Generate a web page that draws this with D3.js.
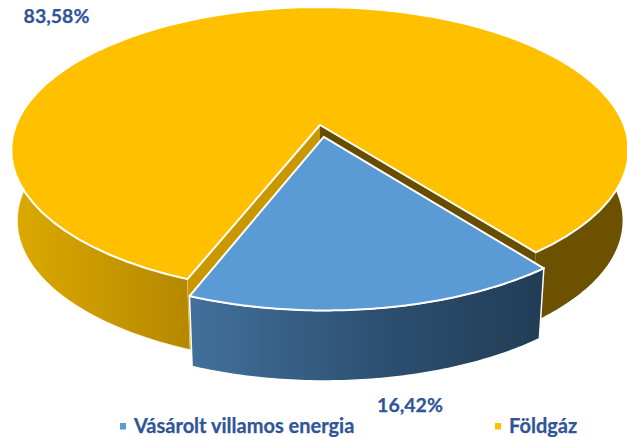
<!DOCTYPE html>
<html><head><meta charset="utf-8">
<script src="https://cdn.jsdelivr.net/npm/d3@7"></script>
<style>html,body{margin:0;padding:0;background:#fff;overflow:hidden}text{font-family:Lato,"Open Sans",sans-serif;font-weight:700;fill:#2f5597;stroke:#2f5597;stroke-width:0.25px}</style>
</head><body><svg id="c" width="627" height="437"></svg>
<script>
const categories = ["Vásárolt villamos energia", "Földgáz"];
const values = [16.42, 83.58];
const valueLabels = ["16,42%", "83,58%"];
const topColors = ["#5b9bd5", "#ffc000"];

const svg = d3.select("#c");
const defs = svg.append("defs");
function grad(id, x1, x2, stops) {
  const g = defs.append("linearGradient").attr("id", id).attr("gradientUnits", "userSpaceOnUse")
    .attr("x1", x1).attr("x2", x2).attr("y1", 0).attr("y2", 0);
  stops.forEach(s => g.append("stop").attr("offset", s[0]).attr("stop-color", s[1]));
}
grad("ySide", 11, 190, [[0, "#dcaa00"], [1, "#b58800"]]);
grad("bSide", 190, 545, [[0, "#42709c"], [0.55, "#2c4f70"], [1, "#223c55"]]);

const deg = Math.PI / 180;
const pie = d3.pie().sort(null).value(d => d).startAngle(142.3 * deg).endAngle(502.3 * deg);
const arcs = pie(values);

// perspective projection of the pie's plane
const cx = 320, cy = 125, a = 304, b = 138.6, k = 0.175, dz = 70.5, shrink = 0.98;
function project(x, y, bottom) {
  const w = 1 - k * y;
  const u = a * x / w, v = b * y / w;
  return bottom ? [cx + shrink * u, cy + dz + v] : [cx + u, cy + v];
}
function rim(t, off, bottom) {
  return project(off[0] + Math.sin(t), off[1] - Math.cos(t), bottom);
}
function sample(t0, t1) { const n = 80; return d3.range(n + 1).map(i => t0 + (t1 - t0) * i / n); }
const line = d3.line();
function topPath(d, off) {
  return line([project(off[0], off[1], false), ...sample(d.startAngle, d.endAngle).map(t => rim(t, off, false))]) + "Z";
}
function sidePath(t0, t1, off) {
  const s = sample(t0, t1);
  return line([...s.map(t => rim(t, off, false)), ...s.reverse().map(t => rim(t, off, true))]) + "Z";
}
function wallPath(t, off) {
  return line([project(off[0], off[1], false), rim(t, off, false), rim(t, off, true), project(off[0], off[1], true)]) + "Z";
}

const blue = arcs[0], yellow = arcs[1];
const mid = (blue.startAngle + blue.endAngle) / 2;
const explode = 0.085;
const blueOff = [explode * Math.sin(mid), -explode * Math.cos(mid)];
const none = [0, 0];

// yellow outer walls
svg.append("path").attr("d", sidePath(blue.startAngle - 70 * deg, blue.startAngle, none)).attr("fill", "#6b5100");
svg.append("path").attr("d", sidePath(yellow.startAngle, 290 * deg, none)).attr("fill", "url(#ySide)").attr("stroke", "#fff").attr("stroke-width", 0.6);
// yellow cut walls
svg.append("path").attr("d", wallPath(yellow.startAngle, none)).attr("fill", "#c99700");
svg.append("path").attr("d", wallPath(yellow.endAngle, none)).attr("fill", "#664d00");
// yellow top
svg.append("path").attr("d", topPath(yellow, none)).attr("fill", topColors[1]).attr("stroke", "#fff").attr("stroke-width", 2).attr("stroke-linejoin", "round");
// blue outer wall + top
svg.append("path").attr("d", sidePath(blue.startAngle, blue.endAngle, blueOff)).attr("fill", "url(#bSide)").attr("stroke", "#fff").attr("stroke-width", 1.5);
svg.append("path").attr("d", topPath(blue, blueOff)).attr("fill", topColors[0]).attr("stroke", "#fff").attr("stroke-width", 2).attr("stroke-linejoin", "round");

// value labels
svg.append("text").attr("x", 56.5).attr("y", 23).attr("text-anchor", "middle").attr("font-size", 19.5).text(valueLabels[1]);
svg.append("text").attr("x", 410).attr("y", 412).attr("text-anchor", "middle").attr("font-size", 19.5).text(valueLabels[0]);

// legend
const legendX = [120, 495];
categories.forEach((c, i) => {
  svg.append("rect").attr("x", legendX[i]).attr("y", 423).attr("width", 6).attr("height", 6.5).attr("fill", topColors[i]);
  svg.append("text").attr("x", legendX[i] + 14).attr("y", 433).attr("font-size", 20).text(c);
});
</script></body></html>
